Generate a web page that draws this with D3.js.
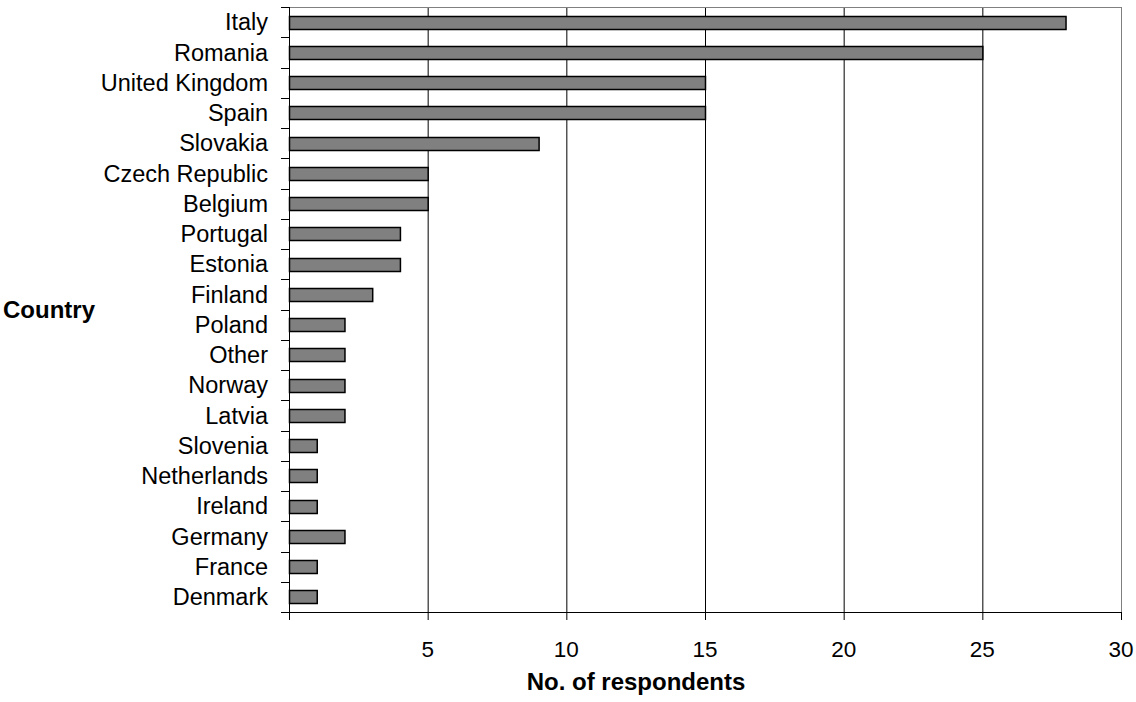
<!DOCTYPE html>
<html><head><meta charset="utf-8">
<script src="https://cdn.jsdelivr.net/npm/d3@7"></script>
<style>body{margin:0;background:#fff;} text{font-family:"Liberation Sans",Arial,sans-serif;}</style>
</head><body>
<svg id="c" width="1136" height="702"></svg>
<script>
const categories = ["Italy","Romania","United Kingdom","Spain","Slovakia","Czech Republic","Belgium","Portugal","Estonia","Finland","Poland","Other","Norway","Latvia","Slovenia","Netherlands","Ireland","Germany","France","Denmark"];
const respondents = [28,25,15,15,9,5,5,4,4,3,2,2,2,2,1,1,1,2,1,1];
const xTicks = [0,5,10,15,20,25,30];
const xTickLabels = ["","5","10","15","20","25","30"];

const svg = d3.select("#c");
const L=289, R=1121, T=7, B=612;
const x = d3.scaleLinear().domain([0,30]).range([L,R]);
const y = d3.scaleBand().domain(categories).range([T,B]).paddingInner(0.57).paddingOuter(0.285);
const step = y.step();

// gridlines
svg.append("g").selectAll("line").data(xTicks.slice(1,-1)).join("line")
  .attr("x1",d=>x(d)+0.5).attr("x2",d=>x(d)+0.5).attr("y1",T).attr("y2",B)
  .attr("stroke","#000").attr("stroke-width",1);
// top and right border
svg.append("line").attr("x1",L).attr("x2",R+0.5).attr("y1",T+0.5).attr("y2",T+0.5).attr("stroke","#808080");
svg.append("line").attr("x1",R+0.5).attr("x2",R+0.5).attr("y1",T).attr("y2",B).attr("stroke","#808080");

// bars
svg.append("g").selectAll("rect").data(categories).join("rect")
  .attr("x",L+0.5).attr("y",d=>Math.round(y(d))+0.5)
  .attr("width",(d,i)=>x(respondents[i])-L)
  .attr("height",y.bandwidth())
  .attr("fill","#808080").attr("stroke","#000").attr("stroke-width",1.5);

// y axis
const yb = d3.range(categories.length+1).map(i=>T+i*step);
svg.append("line").attr("x1",L+0.5).attr("x2",L+0.5).attr("y1",T).attr("y2",B+8).attr("stroke","#000");
svg.append("g").selectAll("line").data(yb).join("line")
  .attr("x1",L-8).attr("x2",L).attr("y1",d=>Math.round(d)+0.5).attr("y2",d=>Math.round(d)+0.5)
  .attr("stroke","#000");
svg.append("g").selectAll("text").data(categories).join("text")
  .attr("x",268).attr("y",d=>y(d)+y.bandwidth()/2).attr("dy","0.35em")
  .attr("text-anchor","end").attr("font-size",23.5).attr("fill","#000").text(d=>d);

// x axis
svg.append("line").attr("x1",L-8).attr("x2",R+0.5).attr("y1",B+0.5).attr("y2",B+0.5).attr("stroke","#000");
svg.append("g").selectAll("line").data(xTicks).join("line")
  .attr("x1",d=>x(d)+0.5).attr("x2",d=>x(d)+0.5).attr("y1",B).attr("y2",B+8).attr("stroke","#000");
svg.append("g").selectAll("text").data(xTicks).join("text")
  .attr("x",d=>x(d)).attr("y",657).attr("text-anchor","middle")
  .attr("font-size",22.5).attr("fill","#000").text((d,i)=>xTickLabels[i]);

// titles
svg.append("text").attr("x",3).attr("y",318).attr("font-size",24).attr("font-weight","bold").text("Country");
svg.append("text").attr("x",636).attr("y",690).attr("text-anchor","middle").attr("font-size",24).attr("font-weight","bold").text("No. of respondents");
</script>
</body></html>
